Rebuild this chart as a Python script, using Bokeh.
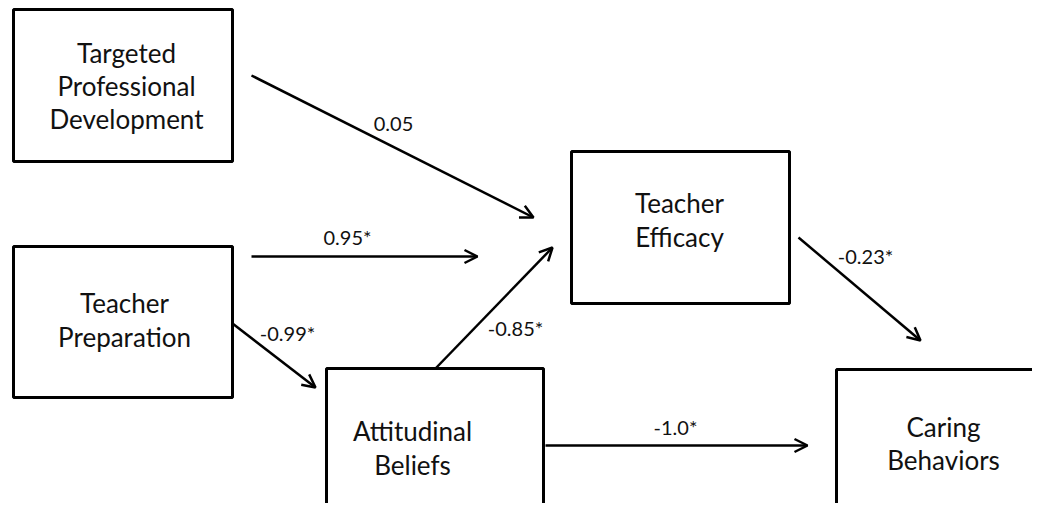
from bokeh.plotting import figure
from bokeh.models import Range1d, Arrow, OpenHead
from bokeh.core.properties import value
from bokeh.embed import file_html
from bokeh.resources import INLINE

# ---- data ----
node_names = ["Targeted Professional Development", "Teacher Preparation",
              "Attitudinal Beliefs", "Teacher Efficacy", "Caring Behaviors"]
node_lines = [["Targeted", "Professional", "Development"],
              ["Teacher", "Preparation"],
              ["Attitudinal", "Beliefs"],
              ["Teacher", "Efficacy"],
              ["Caring", "Behaviors"]]
edge_from = ["Targeted Professional Development", "Teacher Preparation", "Teacher Preparation",
             "Attitudinal Beliefs", "Teacher Efficacy", "Attitudinal Beliefs"]
edge_to = ["Teacher Efficacy", "Teacher Efficacy", "Attitudinal Beliefs",
           "Teacher Efficacy", "Caring Behaviors", "Caring Behaviors"]
coefficients = ["0.05", "0.95*", "-0.99*", "-0.85*", "-0.23*", "-1.0*"]

# ---- layout (pixel-like coordinates, y downward) ----
box_left = [13, 13, 326, 571, 836]
box_right = [232, 232, 543, 789, 1060]
box_top = [9, 246, 368, 151, 369]
box_bottom = [161, 397, 540, 303, 540]
text_x = [126, 124, 412, 679, 943]
text_base = [[52, 85, 118], [302, 336], [430, 464], [202, 236], [426, 459]]

edge_start = [(251, 75), (251, 256), (232, 323), (435, 368), (798, 237), (545, 445)]
edge_end = [(533, 217), (477, 256), (315, 387), (552, 247), (920, 340), (807, 445)]
label_pos = [(393, 123), (347, 236), (287, 332), (515, 327), (865, 255), (675, 426)]

W, H = 1032, 503
p = figure(width=W, height=H, x_range=Range1d(0, W), y_range=Range1d(H, 0),
           output_backend="svg", toolbar_location=None, min_border=0)
p.axis.visible = False
p.grid.visible = False
p.outline_line_color = None
p.background_fill_color = "white"
p.border_fill_color = "white"

p.quad(left=box_left, right=box_right, top=box_top, bottom=box_bottom,
       fill_color="white", line_color="#000000", line_width=3)

tx, ty, tt = [], [], []
for i, lines in enumerate(node_lines):
    for ln, b in zip(lines, text_base[i]):
        tx.append(text_x[i]); ty.append(b); tt.append(ln)
p.text(x=tx, y=ty, text=tt, text_align="center", text_baseline="alphabetic",
       text_font=value("Lato"), text_font_size="26px", text_color="#111111")

for (x0, y0), (x1, y1) in zip(edge_start, edge_end):
    p.add_layout(Arrow(end=OpenHead(size=13, line_width=2.5, line_color="#000000"),
                       x_start=x0, y_start=y0, x_end=x1, y_end=y1,
                       line_width=2.5, line_color="#000000"))

p.text(x=[q[0] for q in label_pos], y=[q[1] for q in label_pos], text=coefficients,
       text_align="center", text_baseline="alphabetic",
       text_font=value("Lato"), text_font_size="20px", text_color="#111111")

open("out.html", "w").write(file_html(p, INLINE))
